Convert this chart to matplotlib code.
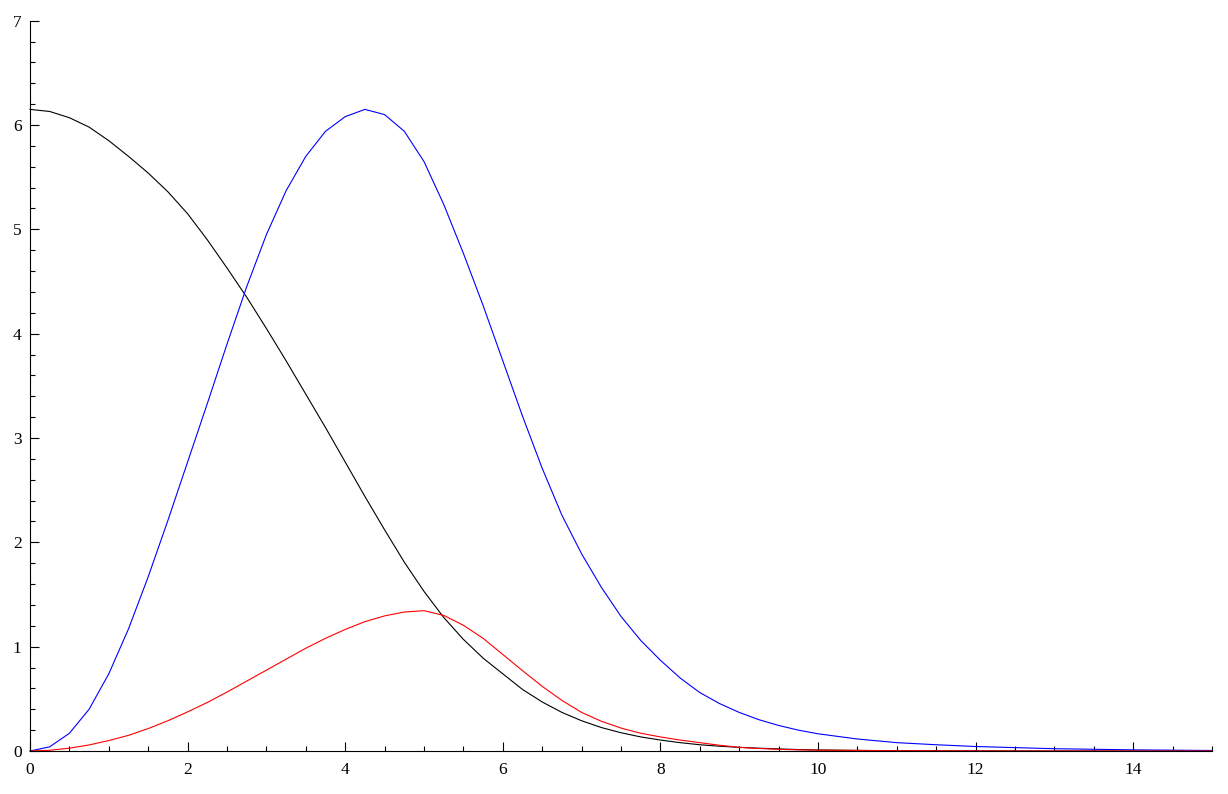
import matplotlib
matplotlib.use("Agg")
import matplotlib.pyplot as plt
from matplotlib.ticker import MultipleLocator

# ---- data ----
x_main = [0, 0.25, 0.5, 0.75, 1.0, 1.25, 1.5, 1.75, 2.0, 2.25, 2.5, 2.75, 3.0, 3.25,
          3.5, 3.75, 4.0, 4.25, 4.5, 4.75, 5.0, 5.25, 5.5, 5.75, 6.0, 6.25, 6.5, 6.75,
          7.0, 7.25, 7.5, 7.75, 8.0, 8.25, 8.5, 8.75, 9.0, 9.25, 9.5, 9.75, 10.0,
          10.5, 11.0, 11.5, 12.0, 13.0, 14.0, 15.0]

black_y = [6.15, 6.13, 6.07, 5.98, 5.85, 5.70, 5.54, 5.36, 5.15, 4.90, 4.63, 4.35,
           4.05, 3.74, 3.42, 3.10, 2.77, 2.44, 2.12, 1.81, 1.53, 1.28, 1.07, 0.89,
           0.74, 0.59, 0.47, 0.37, 0.29, 0.225, 0.175, 0.135, 0.105, 0.08, 0.06,
           0.046, 0.035, 0.027, 0.02, 0.014, 0.01, 0.006, 0.003, 0.002, 0.001,
           0.0, 0.0, 0.0]

blue_y = [0.0, 0.04, 0.17, 0.40, 0.74, 1.17, 1.67, 2.21, 2.77, 3.33, 3.90, 4.45,
          4.95, 5.37, 5.70, 5.94, 6.08, 6.15, 6.10, 5.94, 5.65, 5.24, 4.77, 4.27,
          3.74, 3.21, 2.71, 2.26, 1.89, 1.57, 1.29, 1.06, 0.87, 0.70, 0.56, 0.455,
          0.37, 0.30, 0.245, 0.20, 0.165, 0.115, 0.08, 0.06, 0.043, 0.022, 0.011,
          0.005]

red_y = [0.0, 0.007, 0.027, 0.058, 0.10, 0.15, 0.215, 0.29, 0.375, 0.465, 0.565,
         0.67, 0.775, 0.88, 0.985, 1.08, 1.165, 1.24, 1.295, 1.332, 1.345, 1.30,
         1.205, 1.08, 0.925, 0.77, 0.62, 0.485, 0.37, 0.285, 0.22, 0.17, 0.135,
         0.105, 0.08, 0.055, 0.035, 0.024, 0.016, 0.011, 0.008, 0.005, 0.003,
         0.002, 0.001, 0.0, 0.0, 0.0]

x_ticks = [0, 2, 4, 6, 8, 10, 12, 14]
y_ticks = [0, 1, 2, 3, 4, 5, 6, 7]

plt.rcParams['font.family'] = ['Liberation Serif', 'DejaVu Serif']

fig = plt.figure(figsize=(12.28, 7.94), dpi=100)
ax = fig.add_axes([30 / 1228, 43 / 794, (1212 - 30) / 1228, (751 - 20.7) / 794])

ax.plot(x_main, black_y, color='black', lw=0.8, clip_on=False)
ax.plot(x_main, blue_y, color='#0000ff', lw=0.8, clip_on=False)
ax.plot(x_main, red_y, color='#ff0000', lw=0.8, clip_on=False)

ax.set_xlim(0, 15)
ax.set_ylim(0, 7)
ax.set_xticks(x_ticks)
ax.set_yticks(y_ticks)
ax.xaxis.set_minor_locator(MultipleLocator(0.5))
ax.yaxis.set_minor_locator(MultipleLocator(0.2))

for s in ['top', 'right']:
    ax.spines[s].set_visible(False)
for s in ['left', 'bottom']:
    ax.spines[s].set_linewidth(0.8)
    ax.spines[s].set_color('black')

ax.tick_params(which='major', direction='in', length=6.5, width=0.8, labelsize=12.5)
ax.tick_params(which='minor', direction='in', length=3.6, width=0.8)
ax.tick_params(axis='x', which='major', pad=8)
ax.tick_params(axis='y', which='major', pad=6)

fig.savefig('out.png', dpi=100)
